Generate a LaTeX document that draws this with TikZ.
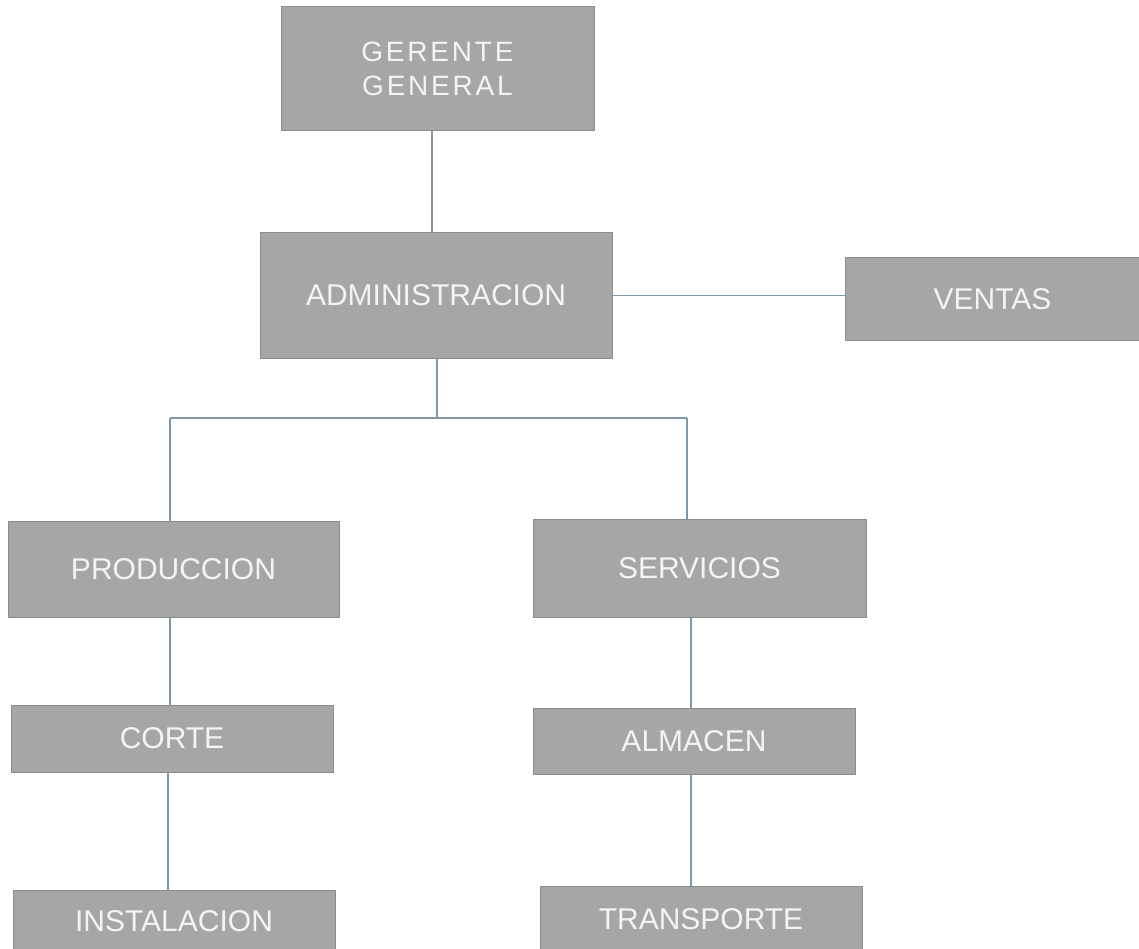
\documentclass[tikz,border=0pt]{standalone}
\usepackage{fontspec}
\setmainfont{Liberation Sans}
\definecolor{boxfill}{HTML}{A6A6A6}
\definecolor{boxline}{HTML}{8C8C8C}
\definecolor{boxtext}{HTML}{F4F4F4}
\definecolor{linkc}{HTML}{7E98AA}
\begin{document}
\begin{tikzpicture}[x=1pt,y=-1pt,
  box/.style={draw=boxline, fill=boxfill, line width=1pt, text=boxtext,
    font=\fontsize{30}{34}\selectfont, inner sep=0pt, anchor=center, align=center},
  link/.style={draw=linkc, line width=1.3pt}]
\useasboundingbox (0,0) rectangle (1139,949);
\fill[white] (0,0) rectangle (1139,949);

\node[box, minimum width=313pt, minimum height=124pt,
  font=\fontsize{28}{34}\selectfont\addfontfeature{LetterSpace=10}] (gg) at (437.5,69) {GERENTE\\GENERAL};
\node[box, minimum width=352pt, minimum height=125pt] (adm) at (436,295.5) {ADMINISTRACION};
\node[box, minimum width=295pt, minimum height=82pt] (ven) at (992.5,299) {VENTAS};
\node[box, minimum width=331pt, minimum height=96pt] (prod) at (173.5,569) {PRODUCCION};
\node[box, minimum width=333pt, minimum height=98pt] (serv) at (699.5,568) {SERVICIOS};
\node[box, minimum width=322pt, minimum height=67pt] (corte) at (172,738.5) {CORTE};
\node[box, minimum width=322pt, minimum height=66pt] (alm) at (694,741) {ALMACEN};
\node[box, minimum width=322pt, minimum height=62pt] (inst) at (174,921) {INSTALACION};
\node[box, minimum width=322pt, minimum height=66pt] (trans) at (701,919) {TRANSPORTE};

\coordinate (bus) at (437,418);
\coordinate (bl) at (170,418);
\coordinate (br) at (687,418);
\coordinate (cr) at (691,418);
\coordinate (cl) at (168,418);

\draw[link] ([xshift=-5.5pt]gg.south) -- ([xshift=-4pt]adm.north);
\draw[link] (adm.east) -- (adm.east -| ven.west);
\draw[link] (adm.south -| bus) -- (bus);
\draw[link] (bl) -- (br);
\draw[link] (bl) -- (bl |- prod.north);
\draw[link] (br) -- (br |- serv.north);
\draw[link] (prod.south -| bl) -- (corte.north -| bl);
\draw[link] (corte.south -| cl) -- (inst.north -| cl);
\draw[link] (serv.south -| cr) -- (alm.north -| cr);
\draw[link] (alm.south -| cr) -- (trans.north -| cr);
\end{tikzpicture}
\end{document}
